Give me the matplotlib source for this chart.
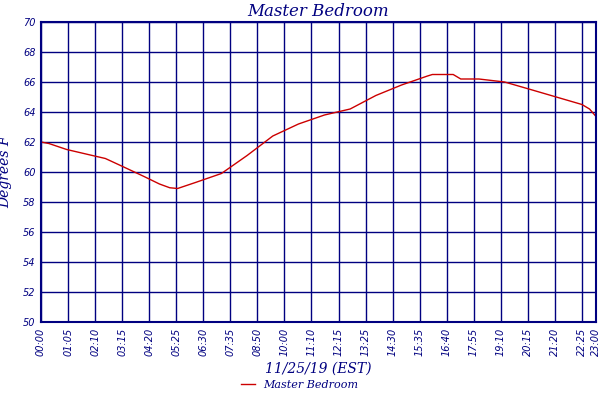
import matplotlib
matplotlib.use("Agg")
import matplotlib.pyplot as plt

tick_labels = ["00:00","01:05","02:10","03:15","04:20","05:25","06:30","07:35","08:50","10:00",
               "11:10","12:15","13:25","14:30","15:35","16:40","17:55","19:10","20:15","21:20","22:25","23:00"]
tick_pos = list(range(21)) + [20.52]

x_pos = [0, 0.29, 0.95, 1.9, 2.38, 2.86, 3.81, 4.38, 4.76, 5.05, 5.71, 6.67, 7.62, 8.57, 9.52, 10.48,
         11.43, 12.38, 13.33, 14.29, 14.47, 15.24, 15.52, 16.19, 17.14, 18.1, 19.05, 19.81, 20.0, 20.28, 20.52]
temps = [62.0, 61.9, 61.5, 61.1, 60.9, 60.5, 59.7, 59.2, 58.95, 58.9, 59.3, 59.9, 61.1, 62.4, 63.2,
         63.8, 64.2, 65.1, 65.8, 66.4, 66.5, 66.5, 66.2, 66.2, 66.0, 65.5, 65.0, 64.6, 64.5, 64.2, 63.7]

navy = "#000080"
fig = plt.figure(figsize=(6, 4), dpi=100)
ax = fig.add_axes([41/600, 78/400, 555/600, 300/400])
ax.plot(x_pos, temps, color="#cc0000", lw=1, label="Master Bedroom")
ax.set_xlim(0, 20.52)
ax.set_ylim(50, 70)
ax.set_xticks(tick_pos)
ax.set_xticklabels(tick_labels, rotation=90, fontsize=7, style="italic", color=navy)
ax.set_yticks(range(50, 71, 2))
ax.set_yticklabels([str(v) for v in range(50, 71, 2)], fontsize=7, style="italic", color=navy)
ax.tick_params(length=0, pad=4)
ax.grid(True, color=navy, lw=1)
for s in ax.spines.values():
    s.set_color(navy); s.set_linewidth(1.5)
ax.set_title("Master Bedroom", fontsize=12, style="italic", family="DejaVu Serif", color=navy, pad=4)
ax.set_ylabel("Degrees F", fontsize=10, style="italic", family="DejaVu Serif", color=navy, labelpad=8)
ax.set_xlabel("11/25/19 (EST)", fontsize=10, style="italic", family="DejaVu Serif", color=navy, labelpad=4)
leg = fig.legend(loc="lower center", bbox_to_anchor=(0.5, 0.0), frameon=False,
                 prop={"family": "DejaVu Serif", "style": "italic", "size": 8}, handlelength=1.2)
for t in leg.get_texts():
    t.set_color(navy)
fig.savefig("out.png", dpi=100)
